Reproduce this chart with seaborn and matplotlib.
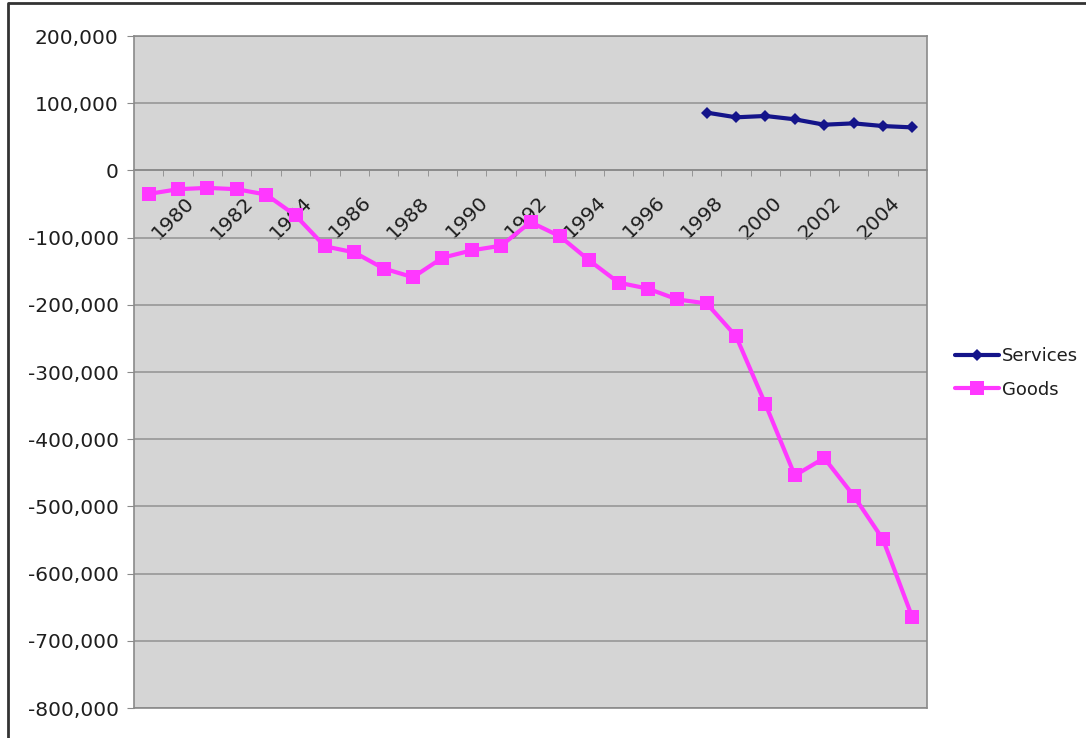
import matplotlib
matplotlib.use("Agg")
import matplotlib.pyplot as plt
from matplotlib.ticker import FuncFormatter, FixedLocator
from matplotlib.transforms import ScaledTranslation
from matplotlib.lines import Line2D
import seaborn as sns
import pandas as pd

# Trade balance by year (millions of dollars)
years = list(range(1978, 2005))
goods = [-35000, -28000, -26000, -28000, -36000, -67000, -113000, -122000,
         -146000, -159000, -130000, -119000, -112000, -77000, -98000, -134000,
         -167000, -176000, -192000, -198000, -247000, -348000, -454000, -428000,
         -484000, -549000, -665000]
services_years = list(range(1997, 2005))
services = [86000, 79000, 81000, 76000, 68000, 70000, 66000, 64000]
label_years = list(range(1980, 2005, 2))

sns.set_style("white")
plt.rcParams['font.family'] = ['DejaVu Sans']

df = pd.concat([
    pd.DataFrame({"idx": [y - years[0] for y in services_years], "value": services, "series": "Services"}),
    pd.DataFrame({"idx": [y - years[0] for y in years], "value": goods, "series": "Goods"}),
])

SERV_C = "#14148a"
GOOD_C = "#ff38ff"
FS = 14.5

fig = plt.figure(figsize=(10.86, 7.38), dpi=100)
ax = fig.add_axes([134 / 1086, 1 - 708 / 738, (927 - 134) / 1086, (708 - 36) / 738])
ax.set_facecolor("#d5d5d5")

sns.lineplot(data=df, x="idx", y="value", hue="series", style="series",
             palette={"Services": SERV_C, "Goods": GOOD_C},
             markers={"Services": "D", "Goods": "s"}, dashes=False,
             linewidth=3, markeredgewidth=0, legend=False, ax=ax, zorder=3)
for ln in ax.lines:
    ln.set_markersize(6 if ln.get_color() == SERV_C else 9.5)

n = len(years)
ax.set_xlim(-0.5, n - 0.5)
ax.set_ylim(-800000, 200000)
ax.set_yticks(range(-800000, 200001, 100000))
ax.yaxis.set_major_formatter(FuncFormatter(lambda v, p: f"{int(v):,}"))
ax.grid(axis="y", color="#929292", linewidth=1.1)
ax.set_axisbelow(True)
ax.set_xlabel("")
ax.set_ylabel("")

# category axis crosses at zero
for s in ["top", "right", "left"]:
    ax.spines[s].set_color("#8a8a8a")
    ax.spines[s].set_linewidth(1.2)
ax.spines["bottom"].set_position(("data", 0))
ax.spines["bottom"].set_color("#8a8a8a")
ax.spines["bottom"].set_linewidth(1.2)
ax.plot([0, 1], [0, 0], transform=ax.transAxes, color="#8a8a8a", lw=1.2, clip_on=False)

ax.set_xticks([y - years[0] for y in label_years])
ax.set_xticklabels([str(y) for y in label_years], rotation=45, ha="right")
ax.xaxis.set_minor_locator(FixedLocator([i - 0.5 for i in range(1, n)]))
ax.tick_params(axis="x", which="major", length=0, pad=16, labelsize=FS, colors="#1e1e1e")
ax.tick_params(axis="x", which="minor", length=4, direction="out", color="#8a8a8a", bottom=True)
ax.tick_params(axis="y", length=5, direction="out", color="#8a8a8a", left=True,
               labelsize=FS, labelcolor="#1e1e1e", pad=6)
shift = ScaledTranslation(-9 / 100, 0, fig.dpi_scale_trans)
for lab in ax.get_xticklabels():
    lab.set_transform(lab.get_transform() + shift)

handles = [
    Line2D([], [], color=SERV_C, lw=3, marker="D", markersize=6, markeredgewidth=0),
    Line2D([], [], color=GOOD_C, lw=3, marker="s", markersize=9.5, markeredgewidth=0),
]
fig.legend(handles, ["Services", "Goods"], loc="center left",
           bbox_to_anchor=(948 / 1086, 1 - 373 / 738), frameon=False,
           fontsize=13, handlelength=2.4, handletextpad=0.2, labelspacing=0.85,
           borderaxespad=0, labelcolor="#1e1e1e")

# outer frame lines
fig.add_artist(Line2D([8 / 1086, 8 / 1086], [0, 1 - 3 / 738], transform=fig.transFigure,
                      color="#333333", lw=2))
fig.add_artist(Line2D([8 / 1086, 1], [1 - 3 / 738, 1 - 3 / 738], transform=fig.transFigure,
                      color="#333333", lw=2, solid_capstyle="butt"))

fig.savefig("out.png", dpi=100)
